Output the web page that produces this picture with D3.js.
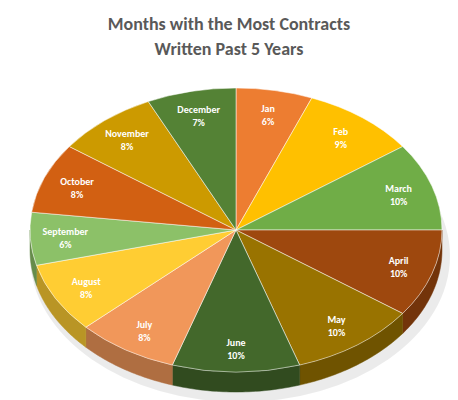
<!DOCTYPE html>
<meta charset="utf-8">
<body style="margin:0;background:#fff">
<script src="https://d3js.org/d3.v7.min.js"></script>
<script>
var months = ["Jan","Feb","March","April","May","June","July","August","September","October","November","December"];
var shares = [6, 9, 10, 10, 10, 10, 8, 8, 6, 8, 8, 7];
var colors = ["#ED7D31","#FFC000","#70AD47","#9E480E","#997300","#43682B",
              "#F1975A","#FFCD33","#8CC168","#D26012","#CC9A00","#548235"];

var width = 458, height = 400;
var cx = 236, cy = 230, rx = 206, ry = 142, depth = 20;

var svg = d3.select("body").append("svg")
    .attr("width", width).attr("height", height)
    .style("font-family", "Calibri, Carlito, 'Open Sans', Arial, sans-serif");

svg.append("text").attr("x", 229).attr("y", 30).attr("text-anchor", "middle")
  .attr("font-size", 18).attr("font-weight", "bold").attr("fill", "#595959")
  .text("Months with the Most Contracts");
svg.append("text").attr("x", 229).attr("y", 55).attr("text-anchor", "middle")
  .attr("font-size", 18).attr("font-weight", "bold").attr("fill", "#595959")
  .text("Written Past 5 Years");

var data = months.map(function(m, i) { return {name: m, value: shares[i], color: colors[i]}; });
var arcs = d3.pie().sort(null).value(function(d) { return d.value; })(data);

function pt(a, r, dy) {
  return [cx + rx * r * Math.sin(a), cy - ry * r * Math.cos(a) + (dy || 0)];
}

// soft shadow
svg.append("ellipse").attr("cx", cx + 4).attr("cy", cy + depth + 6)
  .attr("rx", rx + 4).attr("ry", ry + 4).attr("fill", "#000").attr("opacity", 0.08);

// side walls
var sides = svg.append("g");
arcs.forEach(function(d) {
  var a0 = Math.max(d.startAngle, Math.PI / 2), a1 = Math.min(d.endAngle, 3 * Math.PI / 2);
  if (a1 <= a0) return;
  var top = [], bot = [];
  for (var k = 0; k <= 40; k++) {
    var a = a0 + (a1 - a0) * k / 40;
    top.push(pt(a, 1));
    bot.unshift(pt(a, 1, depth));
  }
  sides.append("path")
    .attr("d", d3.line()(top.concat(bot)) + "Z")
    .attr("fill", d3.color(d.data.color).darker(0.9))
    .attr("stroke", d3.color(d.data.color).darker(0.9)).attr("stroke-width", 0.5);
});

// top face
var arc = d3.arc().innerRadius(0).outerRadius(rx);
var face = svg.append("g").attr("transform", "translate(" + cx + "," + cy + ") scale(1," + (ry / rx) + ")");
face.selectAll("path").data(arcs).enter().append("path")
  .attr("d", arc).attr("fill", function(d) { return d.data.color; })
  .attr("stroke", "#fff").attr("stroke-width", 0.6);

// labels
var lab = svg.append("g").attr("fill", "#fff").attr("font-size", 10).attr("font-weight", "bold")
  .attr("text-anchor", "middle");
arcs.forEach(function(d) {
  var p = pt((d.startAngle + d.endAngle) / 2, 0.83);
  lab.append("text").attr("x", p[0]).attr("y", p[1] - 2).text(d.data.name);
  lab.append("text").attr("x", p[0]).attr("y", p[1] + 11).text(d.data.value + "%");
});
</script>
</body>
